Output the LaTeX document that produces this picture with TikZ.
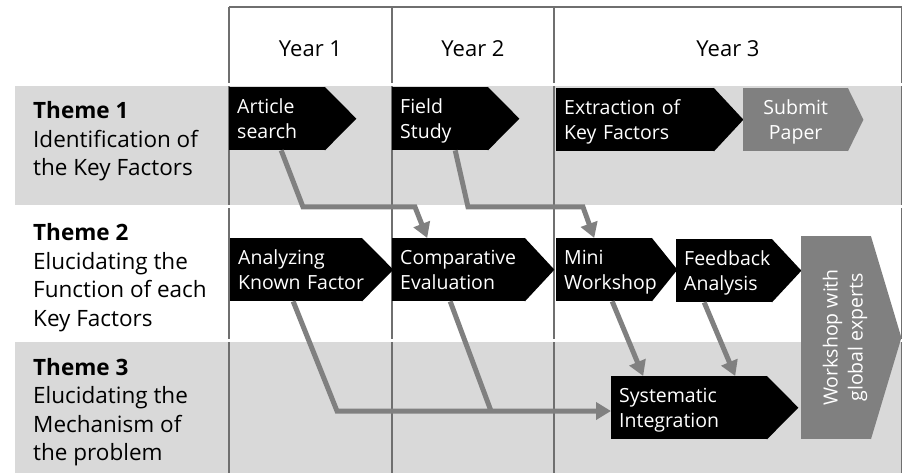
\documentclass[tikz,border=0pt]{standalone}
\usepackage{fontspec}
\setmainfont{Open Sans}
\usetikzlibrary{arrows.meta}
\definecolor{bandgray}{HTML}{D9D9D9}
\definecolor{gridgray}{HTML}{6F6F6F}
\definecolor{flowgray}{HTML}{808080}
\pgfdeclarelayer{background}
\pgfsetlayers{background,main}
\begin{document}
\begin{tikzpicture}[x=1pt,y=-1pt]
	\tikzstyle{every node}=[]
	\tikzstyle{theme}=[anchor=north west, inner sep=0, align=left, font=\fontsize{22.5}{28.5}\selectfont]
	\tikzstyle{year}=[anchor=base, inner sep=0, font=\fontsize{22}{26}\selectfont]
	\tikzstyle{task}=[anchor=north west, fill=black, text=white, minimum height=63, inner xsep=8, inner ysep=0, align=left,
		font=\fontsize{19.5}{25}\selectfont,
		execute at begin node={\hyphenpenalty=10000\relax\vrule width 0pt height 19pt depth 0pt\relax},
		execute at end node={\vrule width 0pt height 0pt depth 5pt\relax}]
	\tikzstyle{grid}=[draw=gridgray, line width=1.8]
	\tikzstyle{flow}=[draw=flowgray, line width=5, -{Triangle[length=15pt,width=17pt]}]
	\tikzstyle{flowline}=[draw=flowgray, line width=5]

	\useasboundingbox (0,0) rectangle (903,473);

	% rows
	\begin{pgfonlayer}{background}
		\fill[bandgray] (15,86) rectangle (902,205);
		\fill[bandgray] (15,342) rectangle (902,473);
		\draw[grid] (229,7) -- (901.5,7);
		\foreach \x in {229,392,554.3,901.5}
			\draw[grid] (\x,7) -- (\x,473);
		\foreach \y in {84.5,206.5,340.5}
			\draw[white, line width=3] (228,\y) -- (903,\y);
	\end{pgfonlayer}

	\node[year] (year1) at (310.5,57) {Year 1};
	\node[year] (year2) at (473,57) {Year 2};
	\node[year] (year3) at (728,57) {Year 3};

	\node[theme] (theme1) at (33,101.5) {\textbf{Theme 1}\\Identification of\\the Key Factors};
	\node[theme] (theme2) at (33,223.3) {\textbf{Theme 2}\\Elucidating the\\Function of each\\Key Factors};
	\node[theme] (theme3) at (33,358) {\textbf{Theme 3}\\Elucidating the\\Mechanism of\\the problem};

	% steps
	\node[task, text width=80] (article) at (229,87) {Article\\search};
	\node[task, text width=80] (field) at (392,87) {Field\\Study};
	\node[task, text width=142] (extract) at (556,88) {Extraction of\\Key Factors};
	\node[task, text width=89, fill=flowgray, align=center] (submit) at (743,88) {Submit\\Paper};
	\node[task, text width=116] (analyze) at (230,238) {Analyzing\\\mbox{Known Factor}};
	\node[task, text width=117] (compare) at (392,238) {Comparative\\Evaluation};
	\node[task, text width=80] (mini) at (556,238) {Mini\\\mbox{Workshop}};
	\node[task, text width=80] (feedback) at (676,239) {Feedback\\Analysis};
	\node[task, text width=140] (systematic) at (611,376) {Systematic\\Integration};
	\node[task, fill=flowgray, minimum width=70, minimum height=203, inner sep=0] (workshop) at (801,236) {};
	\node[rotate=90, text=white, align=center, inner sep=0, font=\fontsize{19.5}{25}\selectfont] (workshoplabel) at (845,337.5) {Workshop with\\global experts};

	\begin{pgfonlayer}{background}
		\foreach \n/\t in {article/31,field/31,extract/29,analyze/31,compare/29,mini/25,feedback/29,systematic/31}
			\fill[black] ([xshift=-0.5]\n.north east) -- ([xshift=\t]\n.east) -- ([xshift=-0.5]\n.south east) -- cycle;
		\foreach \n/\t in {submit/15,workshop/30}
			\fill[flowgray] ([xshift=-0.5]\n.north east) -- ([xshift=\t]\n.east) -- ([xshift=-0.5]\n.south east) -- cycle;
	\end{pgfonlayer}

	% links
	\coordinate (bend1) at (303,207);
	\coordinate (bend2) at (415,207);
	\coordinate (bend3) at (468,207);
	\coordinate (bend4) at (583,207);
	\coordinate (bend5) at (337,411);
	\coordinate (merge) at (491,411);
	\draw[flow] ([xshift=4]article.south) -- (bend1) -- (bend2) -- ([xshift=-31.5]compare.north);
	\draw[flow] ([xshift=15]field.south) -- (bend3) -- (bend4) -- ([xshift=-10]mini.north);
	\draw[flow] ([xshift=-3]analyze.south) -- (bend5) -- (merge) -- (systematic.west |- merge);
	\draw[flowline] ([xshift=-8.5]compare.south) -- (merge);
	\draw[flow] ([xshift=8]mini.south) -- ([xshift=-46]systematic.north);
	\draw[flow] ([xshift=-20]feedback.south) -- ([xshift=46]systematic.north);
\end{tikzpicture}
\end{document}
